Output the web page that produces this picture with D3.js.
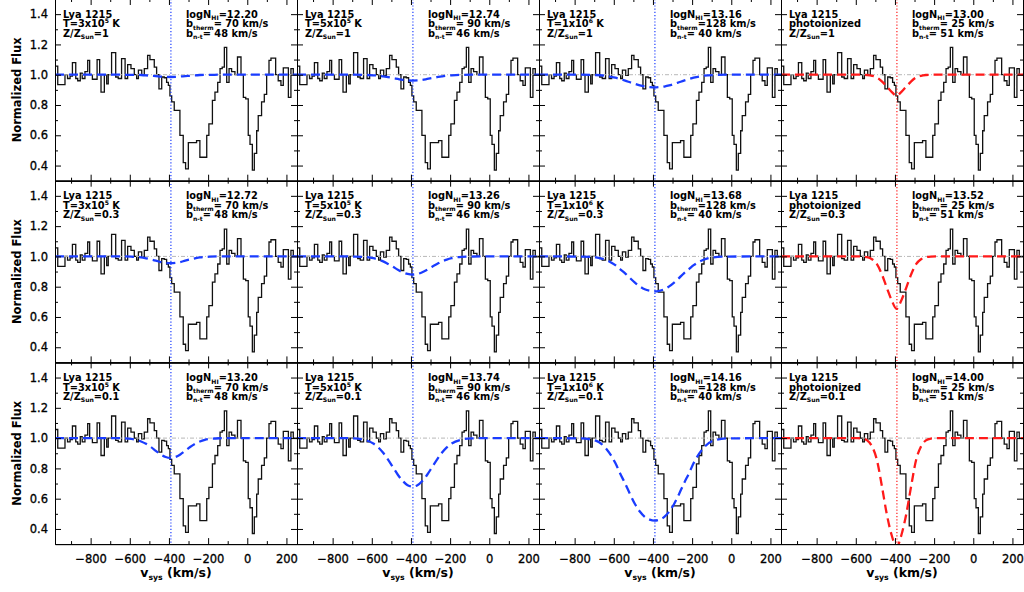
<!DOCTYPE html>
<html>
<head>
<meta charset="utf-8">
<script src="https://cdn.jsdelivr.net/npm/d3@7"></script>
<style>
  body { margin: 0; background: #fff; }
  svg { display: block; font-family: "DejaVu Sans", sans-serif; }
  text { white-space: pre; }
</style>
</head>
<body>
<svg id="chart" width="1024" height="592"></svg>
<script>
// observed Lya spectrum: bin left edges (km/s) and normalized flux per bin
const specVel = [-982, -968, -931, -918, -905, -893, -876, -866, -853, -843, -829, -815, -805, -791, -767, -754, -747, -730, -718, -710,
  -693, -672, -659, -642, -624, -611, -594, -577, -565, -556, -539, -526, -509, -497, -475, -463, -451, -437, -424, -412,
  -403, -395, -386, -373, -344, -327, -315, -301, -259, -242, -207, -196, -178, -165, -151, -139, -128, -117, -105, -93,
  -80, -63, -50, -32, -20, -8, 5, 14, 26, 36, 48, 56, 73, 87, 99, 111, 121, 145, 158, 172, 184, 210, 223, 235, 254];
const specFlux = [1.057, 0.934, 1.0, 0.975, 0.99, 1.08, 0.975, 0.96, 1.01, 0.975, 1.02, 1.095, 1.0, 0.97, 1.10, 1.0, 0.885, 1.0, 0.94, 1.0,
  1.146, 0.985, 0.975, 1.106, 0.975, 1.066, 1.04, 1.0, 0.975, 1.03, 0.995, 1.04, 1.128, 1.10, 1.05, 1.0, 0.907, 0.985, 0.98, 0.95,
  0.93, 0.86, 0.82, 0.764, 0.60, 0.42, 0.378, 0.552, 0.565, 0.455, 0.60, 0.675, 0.83, 0.885, 0.95, 1.04, 1.05, 1.18, 0.95, 1.04,
  1.02, 1.0, 1.117, 1.0, 0.85, 0.84, 0.60, 0.54, 0.37, 0.48, 0.63, 0.73, 0.82, 0.87, 1.0, 1.095, 1.11, 1.0, 0.96, 0.93, 1.045, 0.85, 1.04, 1.0];

// model absorption profiles, sampled on modelVel, one array per column (T=3e5, 5e5, 1e6, photoionized)
const modelVel = [-982, -767, -692, -642, -592, -567, -542, -517, -492, -467, -442, -417, -392, -367, -342, -317, -292, -267, -242, -217, -192, -142, -92, -17, 254];
const modelZ1 = [
  [1, 1, 1, 1, 0.999, 0.999, 0.998, 0.996, 0.993, 0.991, 0.988, 0.986, 0.985, 0.986, 0.988, 0.991, 0.993, 0.996, 0.998, 0.999, 0.999, 1, 1, 1, 1],
  [1, 1, 1, 0.999, 0.996, 0.994, 0.989, 0.984, 0.978, 0.972, 0.966, 0.962, 0.961, 0.962, 0.966, 0.972, 0.978, 0.984, 0.989, 0.994, 0.996, 0.999, 1, 1, 1],
  [1, 1.0, 0.998, 0.993, 0.980, 0.971, 0.961, 0.950, 0.939, 0.929, 0.922, 0.918, 0.916, 0.918, 0.922, 0.929, 0.939, 0.950, 0.961, 0.971, 0.980, 0.993, 0.998, 1.0, 1],
  [1, 1, 1, 1, 1, 1, 0.998, 0.993, 0.982, 0.956, 0.922, 0.887, 0.861, 0.887, 0.922, 0.956, 0.982, 0.993, 0.998, 1, 1, 1, 1, 1, 1]
];
const modelZ03 = [
  [1, 1, 1, 1, 0.998, 0.996, 0.993, 0.987, 0.980, 0.972, 0.963, 0.957, 0.955, 0.957, 0.963, 0.972, 0.980, 0.987, 0.993, 0.996, 0.998, 1, 1, 1, 1],
  [1, 1, 0.999, 0.997, 0.988, 0.979, 0.967, 0.950, 0.932, 0.912, 0.895, 0.884, 0.880, 0.884, 0.895, 0.912, 0.932, 0.950, 0.967, 0.979, 0.988, 0.997, 0.999, 1, 1],
  [1, 0.999, 0.994, 0.978, 0.942, 0.915, 0.888, 0.857, 0.827, 0.802, 0.783, 0.773, 0.769, 0.773, 0.783, 0.802, 0.827, 0.857, 0.888, 0.915, 0.942, 0.978, 0.994, 0.999, 1],
  [1, 1, 1, 1, 1, 0.999, 0.995, 0.981, 0.949, 0.882, 0.794, 0.711, 0.654, 0.711, 0.794, 0.882, 0.949, 0.981, 0.995, 0.999, 1, 1, 1, 1, 1]
];
const modelZ01 = [
  [1, 1, 1, 0.999, 0.995, 0.989, 0.978, 0.962, 0.941, 0.916, 0.892, 0.875, 0.869, 0.875, 0.892, 0.916, 0.941, 0.962, 0.978, 0.989, 0.995, 0.999, 1, 1, 1],
  [1, 1, 0.998, 0.990, 0.964, 0.939, 0.903, 0.858, 0.808, 0.758, 0.717, 0.689, 0.680, 0.689, 0.717, 0.758, 0.808, 0.858, 0.903, 0.939, 0.964, 0.990, 0.998, 1, 1],
  [1, 0.998, 0.983, 0.935, 0.835, 0.765, 0.700, 0.630, 0.565, 0.515, 0.480, 0.462, 0.455, 0.462, 0.480, 0.515, 0.565, 0.630, 0.700, 0.765, 0.835, 0.935, 0.983, 0.998, 1],
  [1, 1, 1, 1, 1, 0.997, 0.985, 0.945, 0.855, 0.685, 0.50, 0.36, 0.28, 0.36, 0.50, 0.685, 0.855, 0.945, 0.985, 0.997, 1, 1, 1, 1, 1]
];
const modelRows = [modelZ1, modelZ03, modelZ01];

// labels
const zLabels = ["1", "0.3", "0.1"];
const tempMant = ["3", "5", "1", null];
const tempExp = ["5", "5", "6", null];
const logNHI = [
  ["12.20", "12.74", "13.16", "13.00"],
  ["12.72", "13.26", "13.68", "13.52"],
  ["13.20", "13.74", "14.16", "14.00"]
];
const bTherm = [" 70", " 90", "128", " 25"];
const bNonTherm = [" 48", " 46", " 40", " 51"];
const vLine = -390;

// ticks
const xMajor = [-800, -600, -400, -200, 0, 200];
const xMinor = [-900, -700, -500, -300, -100, 100];
const yMajor = [0.4, 0.6, 0.8, 1.0, 1.2, 1.4];
const yMinor = [0.5, 0.7, 0.9, 1.1, 1.3];

// layout
const plotLeft = 55, plotTop = -1, panelW = 242, panelH = 181.7;
const nRows = 3, nCols = 4;
const blue = "#1a3cff", red = "#ff1a1a";

const svg = d3.select("#chart");
svg.append("rect").attr("width", 1024).attr("height", 592).attr("fill", "#fff");

const x = d3.scaleLinear().domain([-982, 254]).range([0, panelW]);
const y = d3.scaleLinear().domain([0.3, 1.5]).range([panelH, 0]);

const stepLine = d3.line().x(d => x(d[0])).y(d => y(d[1])).curve(d3.curveStepAfter);
const smoothLine = d3.line().x(d => x(d[0])).y(d => y(d[1])).curve(d3.curveMonotoneX);

const specPts = specFlux.map((f, i) => [specVel[i], f]);
specPts.push([specVel[specVel.length - 1], specFlux[specFlux.length - 1]]);

// little helper for text with sub/superscripts: parts = [[str, shift]]
function richText(g, px, py, parts, size) {
  const t = g.append("text").attr("x", px).attr("y", py)
    .attr("font-size", size).attr("font-weight", "bold").attr("fill", "#000");
  let cur = 0;
  parts.forEach(p => {
    const shift = p[1] || 0;
    t.append("tspan").attr("dy", shift - cur)
      .attr("font-size", shift ? size * 0.62 : size).text(p[0]);
    cur = shift;
  });
  return t;
}

for (let r = 0; r < nRows; r++) {
  for (let c = 0; c < nCols; c++) {
    const col = c === 3 ? red : blue;
    const g = svg.append("g").attr("transform", `translate(${plotLeft + c * panelW},${plotTop + r * panelH})`);
    const clipId = `clip-${r}-${c}`;
    g.append("clipPath").attr("id", clipId).append("rect").attr("width", panelW).attr("height", panelH);
    const inner = g.append("g").attr("clip-path", `url(#${clipId})`);

    // spectrum
    inner.append("path").datum(specPts).attr("d", stepLine)
      .attr("fill", "none").attr("stroke", "#111").attr("stroke-width", 1.3);
    // continuum
    inner.append("line").attr("x1", 0).attr("x2", panelW).attr("y1", y(1)).attr("y2", y(1))
      .attr("stroke", "#b8b8b8").attr("stroke-width", 1).attr("stroke-dasharray", "4,2,1,2");
    // model
    const m = modelRows[r][c].map((f, i) => [modelVel[i], f]);
    inner.append("path").datum(m).attr("d", smoothLine)
      .attr("fill", "none").attr("stroke", col).attr("stroke-width", 2.3).attr("stroke-dasharray", "9,5");
    // line centre
    inner.append("line").attr("x1", x(vLine)).attr("x2", x(vLine)).attr("y1", 0).attr("y2", panelH)
      .attr("stroke", col).attr("stroke-width", 1.2).attr("stroke-dasharray", "1.2,2");

    // axes, ticks pointing inward
    const axes = [];
    axes.push(g.append("g").attr("transform", `translate(0,${panelH})`)
      .call(d3.axisBottom(x).tickValues(xMajor).tickSizeInner(-6).tickSizeOuter(0).tickPadding(11)
        .tickFormat(r === nRows - 1 ? d3.format("d") : "")));
    axes.push(g.append("g").attr("transform", `translate(0,${panelH})`)
      .call(d3.axisBottom(x).tickValues(xMinor).tickSizeInner(-3).tickSizeOuter(0).tickFormat("")));
    axes.push(g.append("g")
      .call(d3.axisTop(x).tickValues(xMajor).tickSizeInner(-6).tickSizeOuter(0).tickFormat("")));
    axes.push(g.append("g")
      .call(d3.axisTop(x).tickValues(xMinor).tickSizeInner(-3).tickSizeOuter(0).tickFormat("")));
    axes.push(g.append("g")
      .call(d3.axisLeft(y).tickValues(yMajor).tickSizeInner(-6).tickSizeOuter(0).tickPadding(7)
        .tickFormat(c === 0 ? d3.format(".1f") : "")));
    axes.push(g.append("g")
      .call(d3.axisLeft(y).tickValues(yMinor).tickSizeInner(-3).tickSizeOuter(0).tickFormat("")));
    axes.push(g.append("g").attr("transform", `translate(${panelW},0)`)
      .call(d3.axisRight(y).tickValues(yMajor).tickSizeInner(-6).tickSizeOuter(0).tickFormat("")));
    axes.push(g.append("g").attr("transform", `translate(${panelW},0)`)
      .call(d3.axisRight(y).tickValues(yMinor).tickSizeInner(-3).tickSizeOuter(0).tickFormat("")));
    axes.forEach(a => {
      a.attr("font-family", null).attr("font-size", null);
      a.selectAll("path, line").attr("stroke", "#000").attr("stroke-width", 1);
      a.selectAll("text").attr("font-size", 11.5).attr("fill", "#000")
        .attr("stroke", "#000").attr("stroke-width", 0.3);
    });

    // annotations (tightly stacked, as in the original)
    const lx = 8, rx = 131, fs = 9.8;
    const b1 = 18.8, b2 = 28.2, b3 = 37.6;
    richText(g, lx, b1, [["Lya 1215"]], fs);
    if (tempMant[c]) {
      richText(g, lx, b2, [["T=" + tempMant[c] + "x10"], [tempExp[c], -4], [" K"]], fs);
    } else {
      richText(g, lx, b2, [["photoionized"]], fs);
    }
    richText(g, lx, b3, [["Z/Z"], ["Sun", 2.5], ["=" + zLabels[r]]], fs);
    richText(g, rx, b1, [["logN"], ["HI", 2.5], ["=" + logNHI[r][c]]], fs);
    richText(g, rx, b2, [["b"], ["therm", 2.5], ["=" + bTherm[c] + " km/s"]], fs);
    richText(g, rx, b3, [["b"], ["n-t", 2.5], ["=" + bNonTherm[c] + " km/s"]], fs);
  }
  // y title
  svg.append("text").attr("transform", `translate(20.7,${plotTop + r * panelH + panelH / 2}) rotate(-90)`)
    .attr("text-anchor", "middle").attr("font-size", 11.5).attr("font-weight", "bold")
    .text("Normalized Flux");
}

// x titles
for (let c = 0; c < nCols; c++) {
  richText(svg, plotLeft + c * panelW + panelW / 2, 577, [["v"], ["sys", 2.5], [" (km/s)"]], 12.5)
    .attr("text-anchor", "middle");
}
</script>
</body>
</html>
